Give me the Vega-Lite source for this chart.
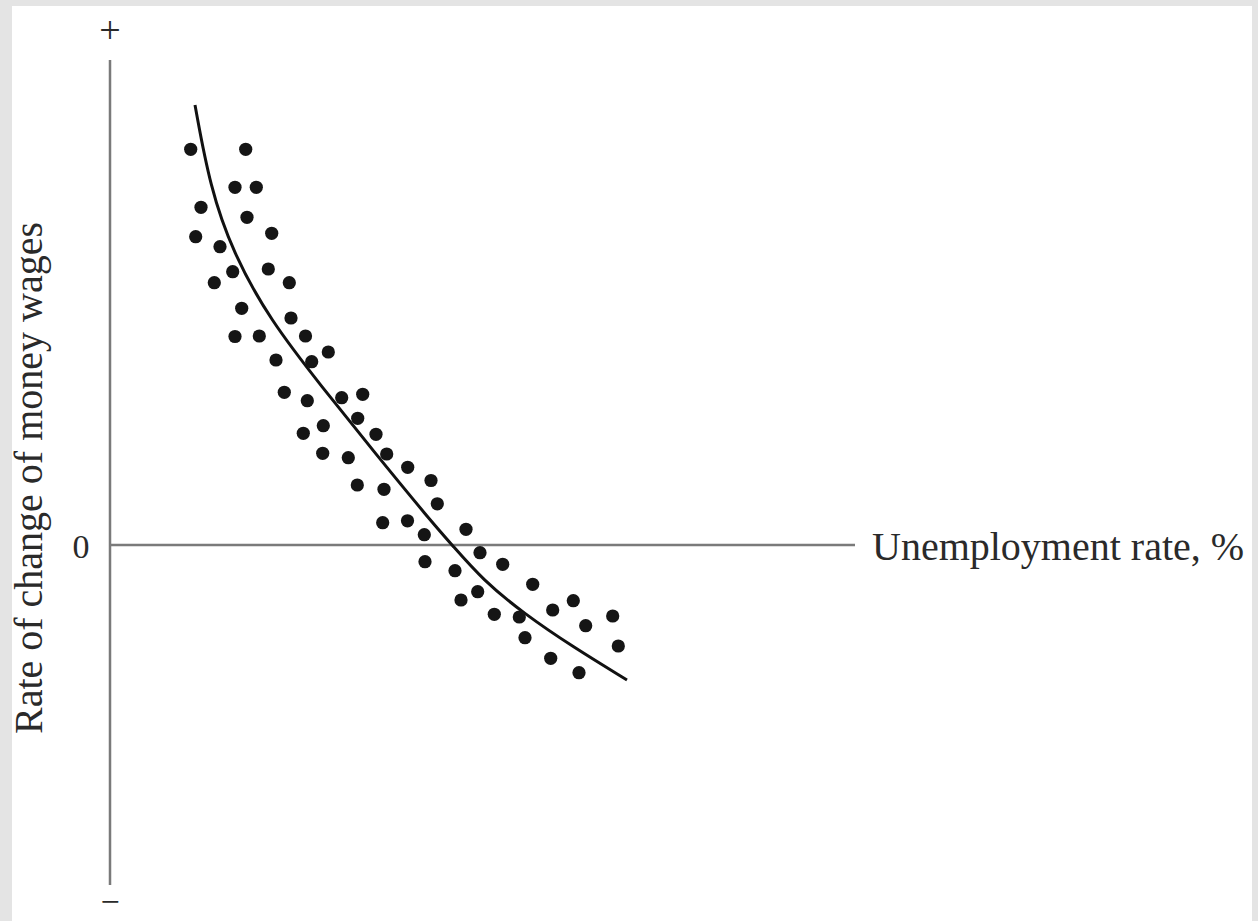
{
  "$schema": "https://vega.github.io/schema/vega-lite/v6.json",
  "width": 1240,
  "height": 915,
  "autosize": {"type": "none"},
  "padding": {"left": 12, "top": 6, "right": 6, "bottom": 0},
  "background": "#e4e4e4",
  "config": {"view": {"fill": "white", "stroke": null}},
  "datasets": {
    "axes": [
      {"x1": 0, "y1": 4.85, "x2": 0, "y2": -3.40},
      {"x1": 0, "y1": 0, "x2": 7.45, "y2": 0}
    ],
    "curve": [
      {"u": 0.85, "w": 4.40},
      {"u": 1.00, "w": 3.58},
      {"u": 1.23, "w": 2.92},
      {"u": 1.60, "w": 2.25},
      {"u": 2.12, "w": 1.58},
      {"u": 2.65, "w": 0.92},
      {"u": 3.20, "w": 0.25},
      {"u": 3.43, "w": -0.01},
      {"u": 3.73, "w": -0.35},
      {"u": 4.13, "w": -0.68},
      {"u": 4.63, "w": -1.02},
      {"u": 5.17, "w": -1.35}
    ],
    "dots": [
      {"u": 0.807, "w": 3.957}, {"u": 1.357, "w": 3.957},
      {"u": 1.25, "w": 3.577}, {"u": 1.463, "w": 3.577},
      {"u": 0.91, "w": 3.377}, {"u": 1.37, "w": 3.277},
      {"u": 0.857, "w": 3.083}, {"u": 1.617, "w": 3.117},
      {"u": 1.10, "w": 2.983}, {"u": 1.227, "w": 2.733},
      {"u": 1.583, "w": 2.76}, {"u": 1.043, "w": 2.623},
      {"u": 1.793, "w": 2.623}, {"u": 1.317, "w": 2.367},
      {"u": 1.81, "w": 2.27}, {"u": 1.25, "w": 2.085},
      {"u": 1.493, "w": 2.09}, {"u": 1.955, "w": 2.09},
      {"u": 2.183, "w": 1.93}, {"u": 1.66, "w": 1.85},
      {"u": 2.017, "w": 1.833}, {"u": 1.743, "w": 1.527},
      {"u": 1.973, "w": 1.443}, {"u": 2.317, "w": 1.473},
      {"u": 2.527, "w": 1.507}, {"u": 2.477, "w": 1.267},
      {"u": 2.133, "w": 1.193}, {"u": 1.933, "w": 1.117},
      {"u": 2.66, "w": 1.107}, {"u": 2.127, "w": 0.917},
      {"u": 2.383, "w": 0.873}, {"u": 2.767, "w": 0.91},
      {"u": 2.977, "w": 0.777}, {"u": 3.21, "w": 0.645},
      {"u": 2.473, "w": 0.60}, {"u": 2.74, "w": 0.557},
      {"u": 3.273, "w": 0.412}, {"u": 2.727, "w": 0.223},
      {"u": 2.975, "w": 0.242}, {"u": 3.143, "w": 0.103},
      {"u": 3.56, "w": 0.157}, {"u": 3.70, "w": -0.077},
      {"u": 3.15, "w": -0.167}, {"u": 3.927, "w": -0.193},
      {"u": 3.45, "w": -0.257}, {"u": 4.227, "w": -0.393},
      {"u": 3.677, "w": -0.467}, {"u": 3.51, "w": -0.55},
      {"u": 4.633, "w": -0.557}, {"u": 4.427, "w": -0.65},
      {"u": 3.843, "w": -0.693}, {"u": 4.093, "w": -0.72},
      {"u": 5.027, "w": -0.71}, {"u": 4.757, "w": -0.807},
      {"u": 4.15, "w": -0.927}, {"u": 5.083, "w": -1.01},
      {"u": 4.407, "w": -1.133}, {"u": 4.69, "w": -1.277}
    ],
    "labels": [
      {"u": 0, "w": 5.13, "t": "+", "size": 38, "angle": 0},
      {"u": 0, "w": -3.58, "t": "−", "size": 34, "angle": 0},
      {"u": -0.29, "w": -0.03, "t": "0", "size": 34, "angle": 0},
      {"u": -0.80, "w": 0.67, "t": "Rate of change of money wages", "size": 40, "angle": 270}
    ],
    "xtitle": [
      {"u": 7.62, "w": -0.03, "t": "Unemployment rate, %"}
    ]
  },
  "layer": [
    {
      "data": {"name": "axes"},
      "mark": {"type": "rule", "color": "#7a7a7a", "strokeWidth": 2.5},
      "encoding": {
        "x": {"field": "x1", "type": "quantitative", "scale": {"domain": [-0.98, 11.42], "nice": false, "zero": false}, "axis": null},
        "y": {"field": "y1", "type": "quantitative", "scale": {"domain": [-3.76, 5.39], "nice": false, "zero": false}, "axis": null},
        "x2": {"field": "x2"},
        "y2": {"field": "y2"}
      }
    },
    {
      "data": {"name": "curve"},
      "mark": {"type": "line", "color": "#111111", "strokeWidth": 3, "interpolate": "basis"},
      "encoding": {
        "x": {"field": "u", "type": "quantitative"},
        "y": {"field": "w", "type": "quantitative"}
      }
    },
    {
      "data": {"name": "dots"},
      "mark": {"type": "circle", "color": "#151515", "opacity": 1, "size": 175},
      "encoding": {
        "x": {"field": "u", "type": "quantitative"},
        "y": {"field": "w", "type": "quantitative"}
      }
    },
    {
      "data": {"name": "labels"},
      "mark": {"type": "text", "font": "Liberation Serif", "color": "#2a2a2a", "baseline": "middle", "align": "center"},
      "encoding": {
        "x": {"field": "u", "type": "quantitative"},
        "y": {"field": "w", "type": "quantitative"},
        "text": {"field": "t"},
        "size": {"field": "size", "type": "quantitative", "scale": null},
        "angle": {"field": "angle", "type": "quantitative", "scale": null}
      }
    },
    {
      "data": {"name": "xtitle"},
      "mark": {"type": "text", "font": "Liberation Serif", "color": "#2a2a2a", "baseline": "middle", "align": "left", "fontSize": 40},
      "encoding": {
        "x": {"field": "u", "type": "quantitative"},
        "y": {"field": "w", "type": "quantitative"},
        "text": {"field": "t"}
      }
    }
  ]
}
